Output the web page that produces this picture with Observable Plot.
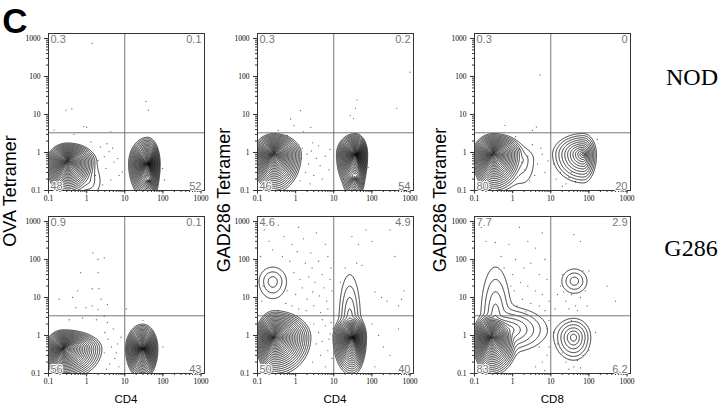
<!DOCTYPE html>
<html><head><meta charset="utf-8">
<script src="https://cdn.jsdelivr.net/npm/d3@7"></script>
<script src="https://cdn.jsdelivr.net/npm/@observablehq/plot@0.6"></script>
<style>
body{margin:0;background:#fff;}
#fig{position:relative;width:720px;height:406px;overflow:hidden;background:#fff;font-family:"Liberation Sans",Arial,sans-serif;color:#000;}
.lbl{position:absolute;white-space:nowrap;line-height:1;transform:translate(-50%,-50%);}
.rot{transform:translate(-50%,-50%) rotate(-90deg);}
.panel{position:absolute;}
#err{position:absolute;left:0;top:0;font-size:10px;color:red;white-space:pre;}
</style></head><body><div id="fig"></div><div id="err"></div>
<script>
// ---- data ----
const panelRows = ["NOD", "NOD", "NOD", "G286", "G286", "G286"];
const xTitles = ["CD4", "CD4", "CD8"];
const yTitles = ["OVA Tetramer", "GAD286 Tetramer", "GAD286 Tetramer"];
const majorTicks = [0.1, 1, 10, 100, 1000];
const pctUL = [0.3, 0.3, 0.3, 0.9, 4.6, 7.7];
const pctUR = [0.1, 0.2, 0, 0.1, 4.9, 2.9];
const pctLL = [48, 46, 80, 56, 50, 83];
const pctLR = [52, 54, 20, 43, 40, 6.2];
const quadX = 10, quadY = 3.3;
// populations: [panel, centre log10 x, centre log10 y, spread left, right, down, up (decades), rings, shape]
const populations = [
  [0, -0.5, -0.25, 0.55, 0.75, 0.9, 0.5, 26, 0.7],
  [0, 0.05, -0.75, 0.35, 0.3, 0.4, 0.4, 2, 1],
  [0, 1.6, -0.3, 0.5, 0.33, 0.9, 0.7, 28, 0.65],
  [0, 1.62, -0.75, 0.35, 0.25, 0.5, 0.5, 15, 0.7],
  [1, -0.57, -0.05, 0.55, 0.72, 1.0, 0.55, 26, 0.7],
  [1, 1.57, -0.05, 0.5, 0.32, 1.0, 0.55, 28, 0.65],
  [1, 1.55, -0.7, 0.3, 0.25, 0.5, 0.4, 13, 0.8],
  [2, -0.5, -0.05, 0.55, 0.8, 1.0, 0.55, 26, 0.7],
  [2, 0.25, -0.2, 0.4, 0.3, 0.6, 0.3, 2, 1],
  [2, 1.85, -0.05, 0.8, 0.35, 0.75, 0.55, 12, 0.8],
  [3, -0.6, -0.35, 0.5, 1.0, 0.8, 0.5, 26, 0.7],
  [3, 1.47, -0.35, 0.45, 0.4, 0.8, 0.65, 28, 0.65],
  [4, -0.55, -0.05, 0.5, 0.95, 1.0, 0.7, 26, 0.7],
  [4, -0.6, 1.42, 0.36, 0.36, 0.45, 0.38, 3, 1],
  [4, 1.48, -0.05, 0.5, 0.38, 1.0, 0.6, 28, 0.6],
  [4, 1.42, 0.4, 0.28, 0.28, 0.5, 1.2, 4, 1],
  [5, -0.55, -0.05, 0.5, 0.7, 1.0, 0.65, 26, 0.7],
  [5, -0.45, 0.5, 0.38, 0.4, 0.6, 1.3, 4, 1],
  [5, -0.15, 0.15, 0.4, 1.05, 0.6, 0.6, 6, 1],
  [5, 1.62, 1.43, 0.33, 0.33, 0.32, 0.32, 3, 1],
  [5, 1.6, -0.05, 0.5, 0.45, 0.6, 0.5, 6, 1]
];
const eventsNodOva = [[1.4,740],[0.29,13],[0.41,14],[0.85,4.8],[1.0,4.6],[0.14,3.9],[0.47,3.0],[4.3,3.5],[36,22],[42,13],[2.3,1.4],[2.9,0.78],[3.9,1.05],[3.2,0.38],[5.2,0.56],[7.1,0.25],[1.7,0.25],[4.3,0.19],[6.5,0.69],[2.6,0.14],[8.7,0.31],[2.0,0.62],[3.4,1.7],[98,0.38],[110,0.19],[1.3,1.9],[4.8,1.3]];
const eventsNodGadCd4 = [[1.35,12.6],[0.74,7.6],[0.9,5.1],[2.5,4.6],[1.6,3.5],[41,24],[37,14.5],[27,9.5],[33,7.8],[450,14.5],[1000,130],[1.5,1.3],[2.0,0.9],[2.6,1.1],[3.5,0.7],[2.2,0.5],[4.4,0.45],[6,0.8],[1.8,0.3],[3,0.25],[5,0.2],[7.5,0.35],[1.4,0.7],[2.8,1.8],[4,1.5],[8,1.2],[1.3,0.18],[2.4,0.15],[60,0.15],[18,0.2],[80,0.4],[0.6,2.8],[0.35,3.8]];
const eventsNodGadCd8 = [[5.2,110],[0.63,5.2],[4.2,4.7],[3.3,3.8],[1.5,1.2],[2.5,0.8],[3.3,1.6],[4.5,0.5],[2.1,0.35],[6,0.9],[3.8,0.25],[7,0.3],[2.8,0.18],[5.5,1.3],[8.5,0.6],[1.7,0.55],[14,0.2],[18,0.3],[25,0.15],[12,0.5],[30,0.22],[20,0.13],[35,0.3],[45,0.17],[165,2.2],[1.2,2.6]];
const eventsG286Ova = [[1.45,150],[2.0,100],[2.9,110],[0.7,45],[2.0,45],[1.4,17],[2.1,17],[0.58,15],[0.43,10],[0.19,9],[0.52,5.4],[0.96,5.4],[1.4,6],[2,4.8],[2.4,9],[3.5,6.5],[0.35,2.6],[0.78,2.9],[1.8,2.6],[2.9,3.2],[3.5,2.2],[11,5],[30,2.5],[3,1.2],[3.6,0.8],[4.5,0.5],[2.9,0.35],[5.5,0.25],[6.5,0.6],[4,0.18],[7,0.15],[5,1.5],[8,0.9],[3.3,0.13],[6,0.35],[100,0.5]];
const eventsG286GadCd4 = [[0.15,600],[0.2,300],[0.35,800],[0.5,400],[0.8,250],[1.2,700],[1.6,350],[2.5,150],[3.5,500],[6,250],[0.12,120],[0.45,120],[0.7,90],[1.1,160],[1.8,80],[2.7,60],[4,90],[7,120],[0.9,45],[1.3,30],[2.2,35],[3.2,25],[5,40],[8,30],[0.6,15],[1.0,12],[1.5,18],[2,9],[2.8,14],[4.2,11],[6.5,8],[9,15],[0.8,6],[1.2,5],[1.9,4.5],[3,6],[4.5,4],[7,5],[0.14,20],[0.13,8],[0.55,7],[0.35,4.5],[5.5,18],[8.5,60],[0.25,180],[30,400],[45,250],[70,600],[100,300],[400,120],[250,8],[500,6],[180,10],[120,14],[600,9],[40,80],[20,60],[55,70],[15,25],[300,600],[700,15],[3,2],[4,1.2],[5,0.7],[6,1.8],[7,0.4],[8,1.1],[4.5,0.3],[3.5,0.6],[9,0.25],[6,0.15],[5,2.6],[8.5,2.2],[2.8,0.2],[7.5,0.8],[9.5,1.5],[100,2],[150,1],[200,0.5],[300,0.3],[120,0.15],[500,1.5]];
const eventsG286GadCd8 = [[0.2,300],[0.35,280],[0.8,250],[1.5,700],[2.5,300],[4,200],[0.5,120],[1.2,100],[2,60],[3,80],[5,40],[7,100],[1,40],[1.6,25],[2.5,20],[4,15],[6,12],[8,30],[1.1,15],[1.8,9],[3,7],[5,6],[7,4.5],[9,8],[0.6,60],[0.9,20],[1.3,6],[2.2,4.2],[0.15,700],[6,500],[40,450],[60,300],[20,40],[15,12],[25,8],[30,5],[45,6],[60,10],[80,15],[70,50],[18,20],[50,4.5],[35,12],[90,6],[300,20],[500,8],[100,50],[13,5],[22,14],[5,0.5],[6,0.2],[8,0.3],[7,0.12],[9,0.5],[4,0.15],[8,1.5],[9,2.5],[25,0.2],[30,0.13],[40,0.15],[50,0.22],[60,0.14],[70,0.3],[20,0.35],[15,0.6],[100,0.4],[150,1.2],[12,1.2],[35,2.5]];
const events = [eventsNodOva, eventsNodGadCd4, eventsNodGadCd8, eventsG286Ova, eventsG286GadCd4, eventsG286GadCd8];

// ---- drawing (scales are linear in decades = log10 of the values) ----
const FW = 156, FH = 157, ML = 30, MT = 4, MR = 4, MB = 16;
const frameLeft = [48, 257, 474.3];
const frameTop = [33, 216];
const xDomain = [0.1, 1235];
const yDomain = [0.1, 1353];
const lg = Math.log10;
const xDec = xDomain.map(lg), yDec = yDomain.map(lg);
const levels = d3.range(0, 29);
const majorDec = majorTicks.map(lg);
const minorX = d3.scaleLog().domain(xDomain).ticks(60).map(lg);
const minorY = d3.scaleLog().domain(yDomain).ticks(60).map(lg);
const fmt = d => String(+Math.pow(10, d).toPrecision(1));

function densityGrid(pops, gw, gh) {
  const V = new Array(gw * gh);
  for (let r = 0; r < gh; r++) {
    const ly = yDec[1] + (r + 0.5) / gh * (yDec[0] - yDec[1]);
    for (let c = 0; c < gw; c++) {
      const lx = xDec[0] + (c + 0.5) / gw * (xDec[1] - xDec[0]);
      let m = -Infinity; const t = [];
      for (const [, cx, cy, sxl, sxr, syd, syu, n, p] of pops) {
        const dx = (lx - cx) / (lx < cx ? sxl : sxr);
        const dy = (ly - cy) / (ly < cy ? syd : syu);
        const v = n * (1 - Math.pow(Math.hypot(dx, dy), p));
        t.push(v); if (v > m) m = v;
      }
      let s = 0; for (const v of t) s += Math.exp(v - m);
      V[r * gw + c] = m + Math.log(s);
    }
  }
  return V;
}

const fig = document.getElementById("fig");
const pctStyle = {fill: "#777", fontSize: 11, fontFamily: "Liberation Sans", stroke: "white", strokeWidth: 2};
try {
for (let i = 0; i < 6; i++) {
  const row = Math.floor(i / 3), col = i % 3;
  const pops = populations.filter(p => p[0] === i);
  const gw = 2 * FW, gh = 2 * FH;
  const grid = densityGrid(pops, gw, gh);
  const svg = Plot.plot({
    width: ML + FW + MR, height: MT + FH + MB,
    marginLeft: ML, marginTop: MT, marginRight: MR, marginBottom: MB,
    style: {fontFamily: "Liberation Serif", fontSize: "7.5px", background: "transparent", overflow: "visible"},
    x: {type: "linear", domain: xDec, label: null},
    y: {type: "linear", domain: yDec, label: null},
    marks: [
      Plot.dot(events[i], {x: d => lg(d[0]), y: d => lg(d[1]), r: 0.65, fill: "#666", stroke: null}),
      Plot.contour(grid, {value: Plot.identity, width: gw, height: gh, x1: xDec[0], x2: xDec[1], y1: yDec[1], y2: yDec[0], thresholds: levels, stroke: "#000", strokeWidth: 0.8}),
      Plot.ruleX([lg(quadX)], {stroke: "#666", strokeWidth: 0.9}),
      Plot.ruleY([lg(quadY)], {stroke: "#666", strokeWidth: 0.9}),
      Plot.frame({stroke: "#333", strokeWidth: 1}),
      Plot.axisX({ticks: minorX, tickSize: 2, text: null, stroke: "#333"}),
      Plot.axisY({ticks: minorY, tickSize: 2, text: null, stroke: "#333"}),
      Plot.axisX({ticks: majorDec, tickFormat: fmt, tickSize: 3.5, tickPadding: 2, stroke: "#333"}),
      Plot.axisY({ticks: majorDec, tickFormat: fmt, tickSize: 4, tickPadding: 4, stroke: "#333"}),
      Plot.text([pctUL[i]], {frameAnchor: "top-left", text: d => String(d), dx: 2, dy: 2, ...pctStyle}),
      Plot.text([pctUR[i]], {frameAnchor: "top-right", text: d => String(d), dx: -3, dy: 2, ...pctStyle}),
      Plot.text([pctLL[i]], {frameAnchor: "bottom-left", text: d => String(d), dx: 2, dy: -1, ...pctStyle}),
      Plot.text([pctLR[i]], {frameAnchor: "bottom-right", text: d => String(d), dx: -3, dy: -1, ...pctStyle})
    ]
  });
  const wrap = document.createElement("div");
  wrap.className = "panel";
  wrap.style.left = (frameLeft[col] - ML) + "px";
  wrap.style.top = (frameTop[row] - MT) + "px";
  wrap.appendChild(svg);
  fig.appendChild(wrap);
}
} catch (e) { document.getElementById("err").textContent = e.stack; }

function label(text, x, y, css, cls) {
  const d = document.createElement("div");
  d.className = "lbl" + (cls ? " " + cls : "");
  d.textContent = text;
  d.style.left = x + "px"; d.style.top = y + "px";
  Object.assign(d.style, css);
  fig.appendChild(d);
}
label("C", 15, 19.5, {fontSize: "35px", fontWeight: "bold"});
const yTitleX = [10, 224, 440], yTitleY = [191, 200, 200];
yTitles.forEach((t, c) => label(t, yTitleX[c], yTitleY[c], {fontSize: "18px"}, "rot"));
xTitles.forEach((t, c) => label(t, frameLeft[c] + FW / 2, 400, {fontSize: "11.5px"}));
label(panelRows[0], 692, 77, {fontSize: "24px", fontFamily: "Liberation Serif"});
label(panelRows[3], 691, 248, {fontSize: "24px", fontFamily: "Liberation Serif"});
</script></body></html>
